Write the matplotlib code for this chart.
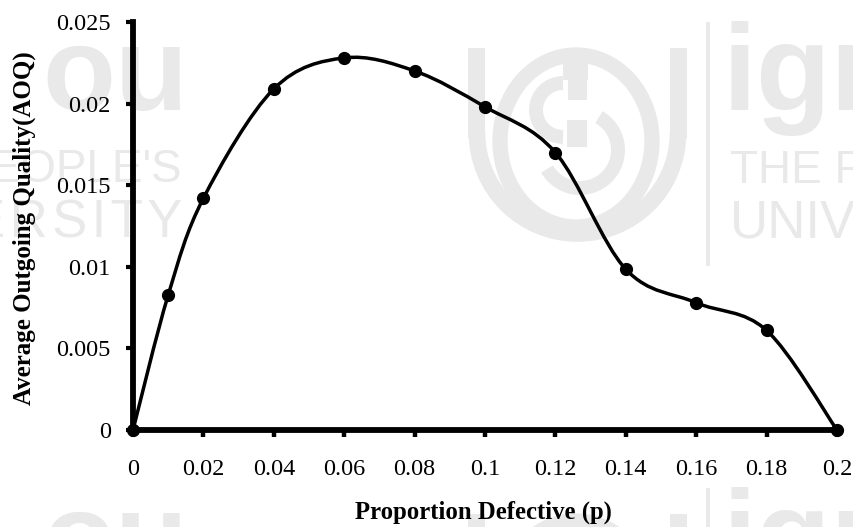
import matplotlib
matplotlib.use('Agg')
from matplotlib import pyplot as plt
from matplotlib.path import Path
from matplotlib.patches import PathPatch, Arc, Rectangle

p = [0, 0.01, 0.02, 0.04, 0.06, 0.08, 0.1, 0.12, 0.14, 0.16, 0.18, 0.2]
aoq = [0, 0.00827, 0.0142, 0.0209, 0.0228, 0.022, 0.0198, 0.017, 0.00985, 0.0078, 0.0061, 0]
x_ticks = [0, 0.02, 0.04, 0.06, 0.08, 0.1, 0.12, 0.14, 0.16, 0.18, 0.2]
x_labels = ['0', '0.02', '0.04', '0.06', '0.08', '0.1', '0.12', '0.14', '0.16', '0.18', '0.2']
y_ticks = [0, 0.005, 0.01, 0.015, 0.02, 0.025]
y_labels = ['0', '0.005', '0.01', '0.015', '0.02', '0.025']

W, H = 854, 527
WM = '#e9e9e9'
plt.rcParams['font.family'] = ['Liberation Serif']
fig = plt.figure(figsize=(W / 100, H / 100), dpi=100)

# watermark layer, in pixel coordinates
bg = fig.add_axes([0, 0, 1, 1], zorder=0)
bg.set_xlim(0, W)
bg.set_ylim(H, 0)
bg.axis('off')


def wm_text(x, y, s, size, weight='normal', ha='left'):
    bg.text(x, y, s, color=WM, fontsize=size, fontweight=weight, ha=ha, va='baseline',
            family='Liberation Sans', clip_on=True)


wm_text(188, 110, 'ou', 86, 'bold', 'right')
wm_text(182, 182, "PEOPLE'S", 33, ha='right')
wm_text(182, 238, 'E\u200aR\u200aS\u200aI\u200aT\u200aY', 38, ha='right')
wm_text(188, 576, 'ou', 86, 'bold', 'right')
wm_text(723, 110, 'ign', 88, 'bold')
wm_text(730, 183, 'THE P', 33)
wm_text(730, 238, 'UNIV', 38)
wm_text(723, 576, 'ign', 88, 'bold')

# logo, repeated lower down the page
for dy in [0, 466]:
    bg.add_patch(Rectangle((468, 48 + dy), 17, 90, color=WM, lw=0))
    bg.add_patch(Rectangle((670, 48 + dy), 17, 90, color=WM, lw=0))
    bg.add_patch(Arc((577.5, 133 + dy), 201, 201, theta1=0, theta2=180, color=WM, lw=12))
    bg.add_patch(Arc((576, 141 + dy), 152, 172, theta1=0, theta2=360, color=WM, lw=11))
    bg.add_patch(Arc((563, 110 + dy), 54, 54, theta1=90, theta2=270, color=WM, lw=10))
    bg.add_patch(Arc((580, 150 + dy), 76, 76, theta1=-60, theta2=150, color=WM, lw=10))
    bg.add_patch(Rectangle((563, 55 + dy), 25, 25, color=WM, lw=0))
    bg.add_patch(Rectangle((568, 80 + dy), 19, 20, color=WM, lw=0))
    bg.add_patch(Rectangle((567, 120 + dy), 20, 27, color=WM, lw=0))
    bg.add_patch(Rectangle((706, 22 + dy), 4.5, 244, color=WM, lw=0))

ax = fig.add_axes([133 / W, 1 - 430 / H, 704 / W, 408 / H], zorder=1)
ax.patch.set_alpha(0)
ax.set_xlim(0, 0.2)
ax.set_ylim(0, 0.025)

# Excel style smoothed line: bezier through the points
verts = [(p[0], aoq[0])]
codes = [Path.MOVETO]
n = len(p)
for i in range(n - 1):
    a = max(i - 1, 0)
    b = min(i + 2, n - 1)
    verts.append((p[i] + (p[i + 1] - p[a]) / 6, aoq[i] + (aoq[i + 1] - aoq[a]) / 6))
    verts.append((p[i + 1] - (p[b] - p[i]) / 6, aoq[i + 1] - (aoq[b] - aoq[i]) / 6))
    verts.append((p[i + 1], aoq[i + 1]))
    codes += [Path.CURVE4, Path.CURVE4, Path.CURVE4]
ax.add_patch(PathPatch(Path(verts, codes), fill=False, edgecolor='black', lw=2.5, clip_on=False, zorder=3))
ax.plot(p, aoq, 'o', color='black', ms=8.5, clip_on=False, zorder=4)

for s in ['top', 'right']:
    ax.spines[s].set_visible(False)
for s in ['left', 'bottom']:
    ax.spines[s].set_linewidth(4.2)
ax.set_xticks(x_ticks)
ax.set_xticklabels(x_labels)
ax.set_yticks(y_ticks)
ax.set_yticklabels(y_labels)
ax.tick_params(axis='x', length=5, width=3.2, labelsize=17.5, pad=16)
ax.tick_params(axis='y', length=5, width=3, labelsize=17.5, pad=11)

fig.text(483 / W, 1 - 519 / H, 'Proportion Defective (p)', ha='center', va='baseline',
         fontsize=17.8, fontweight='bold')
fig.text(24 / W, 1 - 228 / H, 'Average Outgoing Quality(AOQ)', rotation=90, ha='center', va='center',
         fontsize=18, fontweight='bold')

fig.savefig('out.png', dpi=100)
